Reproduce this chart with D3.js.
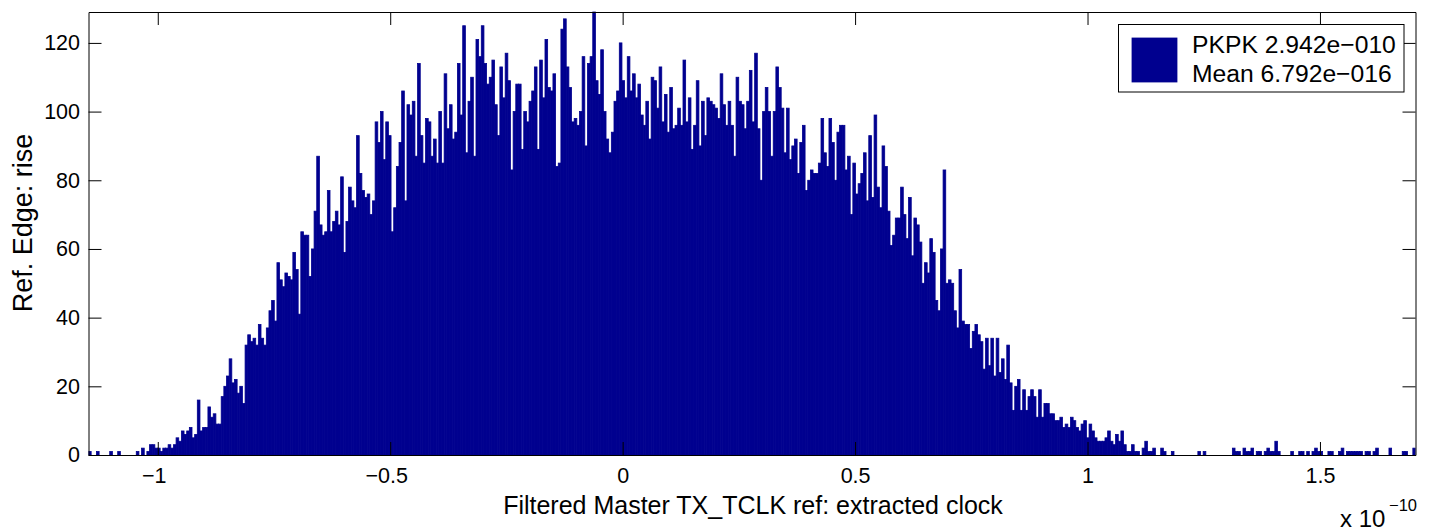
<!DOCTYPE html>
<html><head><meta charset="utf-8">
<script src="https://cdn.jsdelivr.net/npm/d3@7"></script>
<style>
body{margin:0;background:#fff}
text{font-family:Arial,"Liberation Sans",Helvetica,sans-serif;fill:#000}
</style>
</head><body>
<svg id="chart" width="1437" height="532"></svg>
<script>
// Histogram counts, 500 bins
const counts = [
1,0,0,1,0,0,0,0,1,0, 0,1,0,0,0,0,0,0,1,0, 2,0,1,3,3,2,2,1,2,2, 3,2,3,5,4,7,6,7,8,5,
6,16,7,8,8,14,11,12,9,9, 17,20,23,28,21,22,18,20,15,32, 35,33,34,32,38,34,32,37,42,45,
39,56,51,49,53,52,51,59,54,41, 65,64,
64,52,60,71,87,67,64,65,77,65, 68,71,67,81,59,68,78,74,72,93, 82,77,75,76,70,74,97,91,100,86,
97,93,65,72,84,91,106,74,102,99, 103,87,114,93,85,98,97,87,92,85, 100,85,111,95,102,92,94,114,99,125,
88,103,110,87,121,116,125,114,108,110, 115,102,93,113,104,117,109,83,100,108, 108,89,100,
97,103,106,113,89,115,104,121,107,106, 111,84,85,124,127,113,107,97,98,96, 100,116,90,114,116,129,109,105,118,100,
92,88,94,103,106,120,109,104,116,106, 111,104,108,99,96,103,92,110,109,101, 113,97,105,94,107,95,96,101,96,115,
97,104,89,96,109,90,103,93,104,103, 102,101,98,111,102,96,103,96,87,110, 103,102,95,
103,112,97,117,95,80,100,107,100,87, 100,113,107,101,88,101,86,90,92,82, 91,96,77,80,83,82,82,85,98,88,
84,98,91,80,94,96,96,83,87,70, 85,76,79,82,88,74,93,75,99,78, 72,90,84,71,61,64,69,69,78,70,
63,75,58,69,67,62,50,56,53,63, 59,45,42,60,83,50,51,50,42,37, 54,39,38,
38,31,36,38,35,33,25,34,26,34, 23,34,24,28,22,32,21,13,20,22, 13,19,13,17,19,17,11,19,11,15,
15,12,12,10,10,11,8,9,8,11, 10,8,7,9,10,5,9,7,5,4, 4,4,5,7,4,3,6,4,7,3,
1,1,3,1,1,0,2,4,1,1, 2,0,0,2,1,0,0,1,0,0, 0,0,0,
0,0,0,0,1,0,1,0,0,0, 0,0,0,0,0,0,0,2,1,1, 0,2,1,1,2,0,1,1,0,1, 2,1,1,4,1,0,0,0,0,1,
0,0,1,1,0,1,0,1,2,1, 1,0,0,1,1,0,0,1,2,0, 1,1,1,1,1,1,0,1,1,0, 1,2,0,0,0,0,2,0,0,0,
0,1,1,0,0,2
];
const binStart = -1.149;      // x 1e-10
const binWidth = 0.005709;    // x 1e-10
const xDomain = [-1.149, 1.7055];
const yDomain = [0, 129];
const xTicks = [-1, -0.5, 0, 0.5, 1, 1.5];
const yTicks = [0, 20, 40, 60, 80, 100, 120];
const xLabel = "Filtered Master TX_TCLK ref: extracted clock";
const yLabel = "Ref. Edge: rise";
const legendLines = ["PKPK 2.942e\u2212010", "Mean 6.792e\u2212016"];
const exponentBase = "x 10";
const exponentPow = "\u221210";

const barColor = "#00008f";
const L = 88.5, R = 1415.5, T = 12, B = 455;
const svg = d3.select("#chart");
const x = d3.scaleLinear().domain(xDomain).range([L, R]);
const y = d3.scaleLinear().domain(yDomain).range([B, T]);
const fmt = d => (d < 0 ? "\u2212" : "") + Math.abs(d);

svg.append("clipPath").attr("id","clip").append("rect")
  .attr("x", L).attr("y", T - 1).attr("width", R - L).attr("height", B - T + 2);

svg.append("g").attr("clip-path","url(#clip)")
  .selectAll("rect").data(counts).join("rect")
  .attr("x", (d,i) => x(binStart + i*binWidth))
  .attr("width", (d,i) => x(binStart + (i+1)*binWidth) - x(binStart + i*binWidth))
  .attr("y", d => y(d))
  .attr("height", d => y(0) - y(d))
  .attr("fill", barColor)
  .attr("stroke", barColor)
  .attr("stroke-width", 0.8);

const tickLen = 13;
const gx = svg.append("g").attr("transform", `translate(0,${B})`)
  .call(d3.axisBottom(x).tickValues(xTicks).tickFormat(fmt).tickSizeInner(-tickLen).tickSizeOuter(0).tickPadding(13));
const gxt = svg.append("g").attr("transform", `translate(0,${T})`)
  .call(d3.axisTop(x).tickValues(xTicks).tickFormat("").tickSizeInner(-tickLen).tickSizeOuter(0));
const gy = svg.append("g").attr("transform", `translate(${L},0)`)
  .call(d3.axisLeft(y).tickValues(yTicks).tickFormat(fmt).tickSizeInner(-tickLen).tickSizeOuter(0).tickPadding(8.5));
const gyr = svg.append("g").attr("transform", `translate(${R},0)`)
  .call(d3.axisRight(y).tickValues(yTicks).tickFormat("").tickSizeInner(-tickLen).tickSizeOuter(0));
[gx,gxt,gy,gyr].forEach(g => {
  g.selectAll("path.domain").attr("stroke","#000").attr("stroke-width",1);
  g.selectAll(".tick line").attr("stroke","#000").attr("stroke-width",1);
  g.selectAll("text").attr("font-size", 21.5).attr("font-family","Arial, 'Liberation Sans', sans-serif").attr("fill","#000");
});
// negative labels sit slightly left of their ticks in the reference
gx.selectAll(".tick text").attr("dx", d => d < 0 ? -4 : 0);

// labels
svg.append("text").attr("x", 753).attr("y", 514)
  .attr("text-anchor","middle").attr("font-size", 25).text(xLabel);
svg.append("text").attr("transform", `translate(32,223) rotate(-90)`)
  .attr("text-anchor","middle").attr("font-size", 27).text(yLabel);
svg.append("text").attr("x", 1340).attr("y", 527).attr("font-size", 24).text(exponentBase);
svg.append("text").attr("x", 1389).attr("y", 511).attr("font-size", 16.5).text(exponentPow);

// legend
const lg = svg.append("g");
lg.append("rect").attr("x", 1118.5).attr("y", 24.5).attr("width", 285.5).attr("height", 67.5)
  .attr("fill","#fff").attr("stroke","#000").attr("stroke-width",1);
lg.append("rect").attr("x", 1132).attr("y", 38).attr("width", 45).attr("height", 44)
  .attr("fill", barColor).attr("stroke", barColor).attr("stroke-width", 0.8);
lg.selectAll("text.lt").data(legendLines).join("text").attr("class","lt")
  .attr("x", 1192).attr("y", (d,i) => 53 + i*29).attr("font-size", 24.7).text(d => d);
</script>
</body></html>
